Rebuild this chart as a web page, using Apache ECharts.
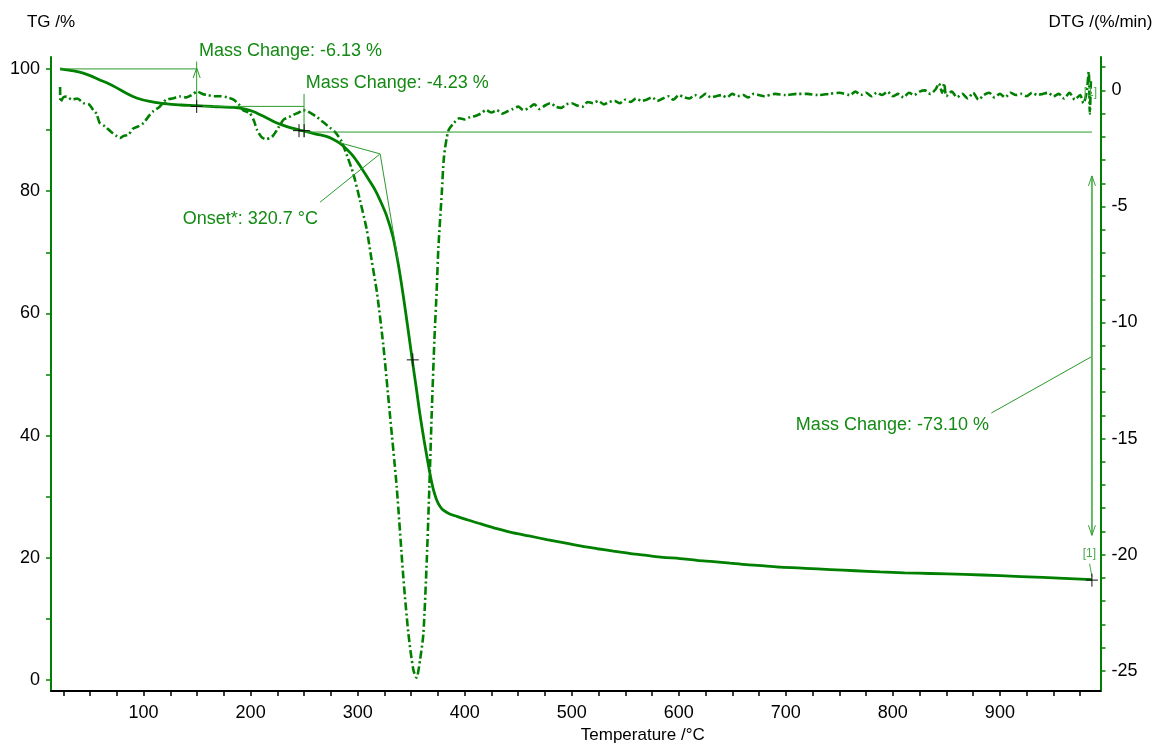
<!DOCTYPE html>
<html><head><meta charset="utf-8">
<script src="https://cdn.jsdelivr.net/npm/echarts@6/dist/echarts.min.js"></script>
<style>html,body{margin:0;padding:0;background:#fff}#c{width:1173px;height:749px}</style>
</head><body><div id="c"></div>
<script>
// ---- TG curve (temperature °C, mass %) ----
const tgTemp = [22,30,37,43.6,50,59,67,75,83,90,98,106,114,121.6,135,149.6,165,184,196,203,209,216,224,230,237,248,262,270,277,283.6,290,296,302,310,316,321,327,333,338,342.6,347,351,355,358,362,366,369,371,374,377,380,386,392.6,403,414.4,430,445.5,460,476.7,492,508,524,539,555,570,585,601,617,632.4,648,663.6,680,694.8,718,741.5,765,788,811,834.9,867,900,940,986];
const tgMass = [100.0,99.8,99.6,99.3,98.9,98.2,97.6,96.9,96.1,95.5,95.0,94.7,94.45,94.3,94.1,94.0,93.85,93.7,93.4,93.0,92.5,91.9,91.2,90.8,90.4,89.9,89.3,89.0,88.5,87.8,86.8,85.7,84.2,82.0,80.3,78.5,76.0,72.5,68.0,62.9,57.5,52.4,47.5,43.7,39.3,35.3,32.5,31.0,29.4,28.4,27.8,27.2,26.8,26.2,25.6,24.8,24.1,23.6,23.0,22.5,21.95,21.5,21.1,20.7,20.4,20.1,19.9,19.6,19.4,19.15,18.9,18.7,18.5,18.3,18.1,17.9,17.7,17.55,17.45,17.3,17.1,16.8,16.45];

// ---- DTG curve (temperature °C, %/min) ----
const dtgTemp = [22,22.5,25,28,33,38,44,49,53,56,59,64,69,75,78,81,86,90,95,100,105,109,115,121,127,134,140,145,150,155,160,166,172,178,184,189,193,199,203,206,210,214,218,221,226,231,236,240,245,249,253,257,262,266,270,274,279,285,290,296,302,308.5,313,318,324,330,336.5,342.7,347.4,352,355,358.4,361.4,364.6,367,369.2,371.7,373.9,375.4,378.6,380.7,384.8,390,395,400,405,410,415,420,425,430,435,440,445,450,455,460,465,470,475,480,485,490,495,500,505,510,515,520,525,530,535,540,545,550,555,560,565,570,575,580,585,590,595,600,605,610,615,620,625,630,635,640,645,650,655,660,665,670,675,680,690,700,710,720,730,740,750,760,765,770,775,780,785,790,795,800,805,810,815,820,825,830,835,840,843,846,848,850,855,860,865,870,875,880,885,890,895,900,905,910,915,920,925,930,935,940,945,950,955,960,965,970,975,978,981,983,984,985];
const dtgRate = [0.15,-0.5,-0.3,-0.26,-0.4,-0.35,-0.55,-0.6,-0.85,-1.0,-1.4,-1.55,-1.76,-1.97,-2.05,-1.97,-1.9,-1.65,-1.55,-1.4,-1.1,-0.9,-0.7,-0.4,-0.35,-0.26,-0.3,-0.2,-0.05,-0.15,-0.2,-0.25,-0.25,-0.3,-0.4,-0.6,-0.85,-0.97,-1.3,-1.7,-2.0,-2.1,-2.05,-1.95,-1.6,-1.25,-1.15,-1.05,-0.95,-0.85,-0.9,-1.0,-1.15,-1.3,-1.45,-1.6,-1.8,-2.2,-2.8,-3.6,-4.7,-6.0,-7.3,-8.7,-11.0,-13.9,-17.1,-21.0,-23.4,-24.96,-25.3,-24.5,-23.4,-20.2,-17.06,-13.9,-10.74,-8.53,-6.79,-4.42,-2.84,-1.73,-1.4,-1.2,-1.25,-1.15,-1.1,-1.0,-0.85,-0.95,-0.85,-1.0,-0.9,-0.8,-0.7,-0.85,-0.75,-0.6,-0.8,-0.65,-0.55,-0.7,-0.75,-0.6,-0.55,-0.65,-0.7,-0.5,-0.55,-0.45,-0.6,-0.5,-0.45,-0.55,-0.4,-0.5,-0.35,-0.45,-0.4,-0.3,-0.45,-0.35,-0.25,-0.4,-0.2,-0.3,-0.35,-0.2,-0.3,-0.15,-0.3,-0.25,-0.2,-0.3,-0.15,-0.25,-0.2,-0.3,-0.15,-0.2,-0.25,-0.15,-0.2,-0.15,-0.15,-0.2,-0.15,-0.1,-0.2,-0.05,-0.2,-0.1,-0.25,-0.1,-0.2,-0.05,-0.25,-0.15,-0.3,-0.1,-0.2,-0.05,0.0,-0.15,0.05,0.3,-0.1,0.3,-0.25,-0.05,-0.3,-0.15,-0.35,-0.1,-0.4,-0.2,-0.1,-0.3,-0.15,-0.3,-0.1,-0.2,-0.15,-0.25,-0.1,-0.2,-0.15,-0.1,-0.25,-0.15,-0.35,-0.1,-0.4,-0.2,-0.55,-0.1,0.8,-1.0,0.4];

// ---- axis ticks / labels ----
const xLabelValues = [100,200,300,400,500,600,700,800,900];
const xTickValues = [25,50,75,100,125,150,175,200,225,250,275,300,325,350,375,400,425,450,475,500,525,550,575,600,625,650,675,700,725,750,775,800,825,850,875,900,925,950,975];
const tgLabelValues = [0,20,40,60,80,100];
const tgTickValues = [0,10,20,30,40,50,60,70,80,90,100];
const dtgLabelValues = [-25,-20,-15,-10,-5,0];
const dtgTickValues = [-25,-24,-23,-22,-21,-20,-19,-18,-17,-16,-15,-14,-13,-12,-11,-10,-9,-8,-7,-6,-5,-4,-3,-2,-1,0,1];

// ---- evaluation annotations (data coordinates on TG axis) ----
const annoSegments = [
  [[21.9,100.0],[149.6,100.0]],
  [[149.6,93.87],[149.6,101.2]],
  [[149.6,93.87],[249.9,93.87]],
  [[249.9,88.8],[249.9,95.9]],
  [[249.9,89.67],[986,89.67]],
  [[892,43.7],[986,52.96]],
  [[283.6,87.9],[321,86.1]],
  [[321,86.1],[337.8,68.6]],
  [[320.3,86.0],[264.9,78.2]]
];
const upArrowTips = [[149.6,100.15]];
const doubleArrow = [[986,82.5],[986,23.7]];
const crossMarks = [[149.6,93.87],[245.2,89.9],[250,89.9],[351.5,52.4],[986,16.37]];
const annoTexts = [
  {text:'Mass Change: -6.13 %', at:[151.8,102.9]},
  {text:'Mass Change: -4.23 %', at:[251.5,97.66]},
  {text:'Mass Change: -73.10 %', at:[709.4,41.72]},
  {text:'Onset*: 320.7 °C', at:[136.5,75.45]}
];
const refTgLabel = {text:'[1]', at:[983.6,20.7], leader:[[983.8,19.07],[986,16.9]]};
const refDtgLabel = {text:'[1]', at:[984.5,-0.08]};

const FONT = '"Liberation Sans", Arial, sans-serif';
const GREEN = '#008000';
const ANNO = '#2a9a2a';

const chart = echarts.init(document.getElementById('c'), null, {renderer:'canvas'});
const option = {
  animation:false,
  backgroundColor:'#ffffff',
  grid:{left:51, right:72.5, top:57, bottom:54, containLabel:false},
  xAxis:{
    type:'value', min:13.5, max:994,
    name:'Temperature /°C', nameLocation:'middle', nameGap:33,
    nameTextStyle:{color:'#000', fontSize:17, fontFamily:FONT, padding:[0,0,0,134]},
    axisLine:{show:true, onZero:false, lineStyle:{color:'#000', width:2}},
    axisTick:{show:true, inside:false, length:5, lineStyle:{color:'#000', width:1.5}, customValues:xTickValues},
    axisLabel:{customValues:xLabelValues, margin:13, color:'#000', fontSize:18, fontFamily:FONT},
    splitLine:{show:false}
  },
  yAxis:[{
    type:'value', position:'left', min:-1.79, max:101.95,
    name:'TG /%', nameLocation:'end', nameGap:26,
    nameTextStyle:{color:'#000', fontSize:17, fontFamily:FONT, align:'center'},
    axisLine:{show:true, onZero:false, lineStyle:{color:GREEN, width:2}},
    axisTick:{show:true, inside:false, length:5, lineStyle:{color:GREEN, width:1.5}, customValues:tgTickValues},
    axisLabel:{customValues:tgLabelValues, margin:11, color:'#000', fontSize:18, fontFamily:FONT},
    splitLine:{show:false}
  },{
    type:'value', position:'right', min:-25.88, max:1.44,
    name:'DTG /(%/min)', nameLocation:'end', nameGap:26,
    nameTextStyle:{color:'#000', fontSize:17, fontFamily:FONT, align:'center'},
    axisLine:{show:true, onZero:false, lineStyle:{color:GREEN, width:2}},
    axisTick:{show:true, inside:false, length:5, lineStyle:{color:GREEN, width:1.5}, customValues:dtgTickValues},
    axisLabel:{customValues:dtgLabelValues, margin:11, color:'#000', fontSize:18, fontFamily:FONT},
    splitLine:{show:false}
  }],
  series:[{
    name:'TG', type:'line', yAxisIndex:0, showSymbol:false, smooth:0.3,
    data: tgTemp.map((t,i)=>[t,tgMass[i]]),
    lineStyle:{color:GREEN, width:2.8}, z:3
  },{
    name:'DTG', type:'line', yAxisIndex:1, showSymbol:false, smooth:0.25,
    data: dtgTemp.map((t,i)=>[t,dtgRate[i]]),
    lineStyle:{color:GREEN, width:2.6, type:[8,3,2,3]}, z:4
  }]
};
chart.setOption(option);

const px = (p, s) => chart.convertToPixel({seriesIndex: s||0}, p);
const els = [];
annoSegments.forEach(seg => {
  els.push({type:'polyline', silent:true, z:10, shape:{points:seg.map(p=>px(p))}, style:{stroke:ANNO, lineWidth:1, fill:null}});
});
upArrowTips.forEach(p => {
  const q = px(p);
  els.push({type:'polyline', silent:true, z:10, shape:{points:[[q[0]-3.5,q[1]+10],[q[0],q[1]],[q[0]+3.5,q[1]+10]]}, style:{stroke:ANNO, lineWidth:1, fill:null}});
});
(function(){
  const a = px(doubleArrow[0]), b = px(doubleArrow[1]);
  els.push({type:'polyline', silent:true, z:10, shape:{points:[a,b]}, style:{stroke:'#66b866', lineWidth:2, fill:null}});
  els.push({type:'polyline', silent:true, z:10, shape:{points:[[a[0]-3.5,a[1]+10],a,[a[0]+3.5,a[1]+10]]}, style:{stroke:'#3a9f3a', lineWidth:1, fill:null}});
  els.push({type:'polyline', silent:true, z:10, shape:{points:[[b[0]-3.5,b[1]-10],b,[b[0]+3.5,b[1]-10]]}, style:{stroke:'#3a9f3a', lineWidth:1, fill:null}});
})();
crossMarks.forEach(p => {
  const q = px(p);
  els.push({type:'polyline', silent:true, z:12, shape:{points:[[q[0]-6,q[1]],[q[0]+6,q[1]]]}, style:{stroke:'#111', lineWidth:1, fill:null}});
  els.push({type:'polyline', silent:true, z:12, shape:{points:[[q[0],q[1]-6.5],[q[0],q[1]+6.5]]}, style:{stroke:'#111', lineWidth:1, fill:null}});
});
annoTexts.forEach(t => {
  const q = px(t.at);
  els.push({type:'text', silent:true, z:11, x:q[0], y:q[1], style:{text:t.text, fill:'#138a13', font:'18px '+FONT, align:'left', verticalAlign:'middle'}});
});
(function(){
  const q = px(refTgLabel.at);
  els.push({type:'text', silent:true, z:11, x:q[0], y:q[1], style:{text:refTgLabel.text, fill:'#4aa84a', font:'12px '+FONT, align:'center', verticalAlign:'middle'}});
  els.push({type:'polyline', silent:true, z:10, shape:{points:refTgLabel.leader.map(p=>px(p))}, style:{stroke:'#4aa84a', lineWidth:1, fill:null}});
  const r = px(refDtgLabel.at, 1);
  els.push({type:'text', silent:true, z:11, x:r[0], y:r[1], style:{text:refDtgLabel.text, fill:'#4aa84a', font:'12px '+FONT, align:'center', verticalAlign:'middle'}});
})();
chart.setOption({graphic:{elements:els}});
</script>
</body></html>
